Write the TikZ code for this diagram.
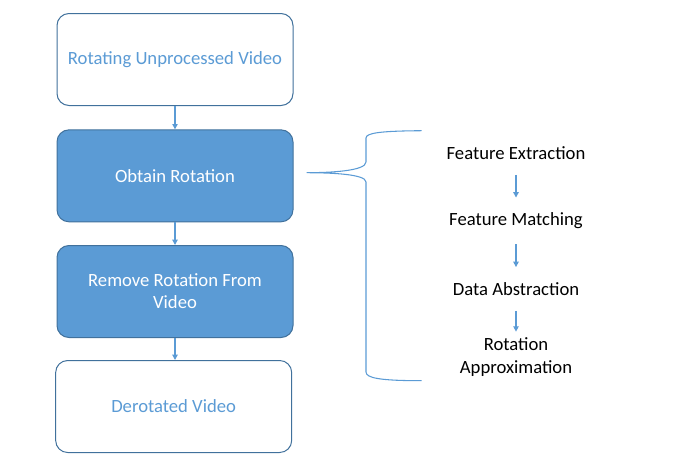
\documentclass[tikz,border=0pt]{standalone}
\usepackage{fontspec}
\setmainfont{Carlito}
\usepackage{tikz}
\usetikzlibrary{positioning,arrows.meta}

\definecolor{boxblue}{HTML}{5B9BD5}
\definecolor{edgeblue}{HTML}{41719C}

\tikzset{
  stage/.style={draw=edgeblue, line width=0.75pt, rounded corners=9pt,
    minimum width=177pt, minimum height=69pt, align=center,
    font=\fontsize{14}{16.5}\selectfont},
  plain stage/.style={stage, fill=white, text=boxblue},
  filled stage/.style={stage, fill=boxblue, text=white},
  substep/.style={align=center, font=\fontsize{14}{17}\selectfont},
  flow/.style={-{Triangle[length=4pt,width=4pt]}, draw=boxblue, line width=0.9pt},
}

\begin{document}
\begin{tikzpicture}[x=0.75pt,y=-0.75pt]
    \useasboundingbox (0,0) rectangle (676,472);

    % main chain
    \node[plain stage] (rotvid) at (175,59.5) {Rotating Unprocessed Video};
    \node[filled stage, below=17.5pt of rotvid] (obtain) {Obtain Rotation};
    \node[filled stage, below=17pt of obtain] (remove) {Remove Rotation From\\Video};
    \node[plain stage, below=16.5pt of remove, xshift=-1pt] (derot) {Derotated Video};

    \draw[flow] (rotvid) -- (obtain);
    \draw[flow] (obtain) -- (remove);
    \draw[flow] (remove.south) -- (remove.south |- derot.north);

    % sub steps
    \node[substep] (fext) at (516,153) {Feature Extraction};
    \node[substep] (fmatch) at (516,221) {Feature Matching};
    \node[substep] (dabs) at (516,289) {Data Abstraction};
    \node[substep] (rapprox) at (516,357) {Rotation\\Approximation};

    \draw[flow, shorten <=8pt, shorten >=8pt] (fext) -- (fmatch);
    \draw[flow, shorten <=8pt, shorten >=8pt] (fmatch) -- (dabs);
    \draw[flow, shorten <=8pt, shorten >=1pt] (dabs) -- (rapprox);

    % brace
    \draw[boxblue, line width=0.8pt]
      (421.7,130.7) .. controls (380,131) and (366,133) .. (366,138)
      -- (366,162) .. controls (366,171) and (330,172.7) .. (306.7,172.7)
      .. controls (330,172.7) and (366,174) .. (366,182)
      -- (366,372) .. controls (366,378) and (380,380.7) .. (421.7,380.7);
\end{tikzpicture}
\end{document}
